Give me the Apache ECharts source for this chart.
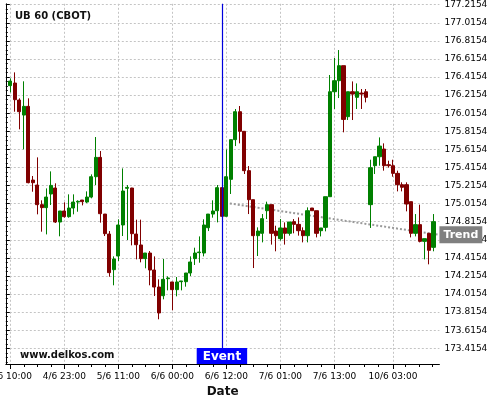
<!DOCTYPE html>
<html>
<head>
<meta charset="utf-8">
<script src="https://cdn.jsdelivr.net/npm/echarts@6/dist/echarts.min.js"></script>
<style>html,body{margin:0;padding:0;background:#fff}#c{width:500px;height:400px}</style>
</head>
<body>
<div id="c"></div>
<script>
// ---- data ----
const openV  = [176.320,176.349,176.161,175.995,176.091,175.276,175.221,175.004,174.971,175.122,
  175.188,174.812,174.934,174.871,174.967,175.033,175.055,175.033,175.088,175.313,
  175.527,174.900,174.679,174.285,174.436,174.779,175.185,175.188,174.679,174.558,
  174.407,174.469,174.281,174.093,173.997,174.185,174.149,174.064,174.152,174.152,
  174.248,174.407,174.473,174.469,174.749,174.900,174.937,175.192,174.875,175.284,
  175.723,176.032,175.815,175.380,175.059,174.661,174.687,174.937,175.004,174.712,
  174.628,174.746,174.687,174.816,174.786,174.716,174.661,174.967,174.937,174.716,
  174.753,175.092,176.253,176.375,176.541,175.977,176.253,176.191,176.238,176.253,
  175.004,175.435,175.534,175.619,175.446,175.435,175.350,175.225,175.225,175.037,
  174.687,174.783,174.598,174.687,174.532];
const closeV = [176.371,176.165,176.032,176.091,175.247,175.247,175.004,174.971,175.088,175.217,
  174.812,174.934,174.871,174.967,175.033,175.041,175.037,175.088,175.313,175.527,
  174.904,174.683,174.252,174.403,174.779,175.155,175.195,174.683,174.561,174.407,
  174.469,174.281,174.093,173.806,174.178,174.193,174.064,174.149,174.160,174.248,
  174.370,174.469,174.480,174.779,174.900,174.934,175.192,174.875,175.313,175.723,
  176.032,175.815,175.380,175.059,174.661,174.712,174.849,175.004,174.687,174.661,
  174.746,174.687,174.812,174.786,174.716,174.661,174.937,174.937,174.687,174.746,
  175.092,176.253,176.375,176.541,175.947,176.253,176.227,176.253,176.227,176.191,
  175.413,175.534,175.652,175.435,175.435,175.350,175.225,175.196,175.011,174.687,
  174.783,174.598,174.628,174.499,174.816];
const lowV   = [176.246,176.032,175.837,175.616,175.240,175.147,174.897,174.705,174.675,175.000,
  174.801,174.654,174.860,174.860,174.897,174.926,174.996,175.022,175.074,175.221,
  174.805,174.657,174.207,174.112,174.381,174.657,174.613,174.554,174.399,174.366,
  174.300,174.112,173.994,173.736,173.957,174.056,173.835,173.990,174.056,174.097,
  174.215,174.337,174.362,174.432,174.712,174.860,174.808,174.875,174.875,175.122,
  175.652,175.682,175.343,174.900,174.303,174.436,174.587,174.845,174.562,174.488,
  174.606,174.562,174.661,174.687,174.661,174.587,174.587,174.937,174.642,174.653,
  174.709,175.092,176.062,176.183,175.804,175.940,175.940,176.062,176.062,176.135,
  174.746,175.343,175.435,175.380,175.413,175.313,175.151,175.151,174.930,174.642,
  174.653,174.587,174.399,174.344,174.488];
const highV  = [176.401,176.467,176.180,176.368,176.180,175.321,175.527,175.052,175.184,175.372,
  175.240,174.934,175.030,175.118,175.118,175.052,175.055,175.151,175.339,175.752,
  175.597,174.900,174.712,174.432,174.842,175.405,175.221,175.190,174.838,174.838,
  174.469,174.491,174.432,174.178,174.403,174.211,174.149,174.204,174.160,174.248,
  174.432,174.528,174.653,174.842,174.900,175.052,175.221,175.192,175.615,175.723,
  176.062,176.095,175.815,175.431,175.059,174.753,174.900,175.037,175.004,174.771,
  174.845,174.808,174.812,174.845,174.863,174.753,174.974,174.967,174.937,174.746,
  175.092,176.438,176.626,176.714,176.541,176.253,176.367,176.345,176.283,176.283,
  175.501,175.534,175.748,175.682,175.490,175.501,175.380,175.251,175.251,175.037,
  174.900,175.004,174.628,174.687,174.900];

// x tick labels (candle position -> text)
const xLabelPos  = [1, 13, 25, 37, 49, 61, 73, 86];
const xLabelText = ['4/6 10:00','4/6 23:00','5/6 11:00','6/6 00:00','6/6 12:00','7/6 01:00','7/6 13:00','10/6 03:00'];
const xMinorPos  = [4,7,10,16,19,22,28,31,34,40,43,46,52,55,58,64,67,70,76.2,79.5,82.8,88.8,91.8,94.7];

// y tick labels
const yTicks = ['177.2154','177.0154','176.8154','176.6154','176.4154','176.2154','176.0154','175.8154',
  '175.6154','175.4154','175.2154','175.0154','174.8154','174.6154','174.4154','174.2154','174.0154',
  '173.8154','173.6154','173.4154'];

// event and trend
const eventPos = 48;
const trendX = [48, 96.3];
const trendY = [175.03, 174.67];

// ---- build ----
const X_MIN = 0, X_MAX = 96.3, Y_MIN = 173.2417, Y_MAX = 177.2254;
const yTickVals = yTicks.map(Number);
const yMinorVals = [];
for (let i = 0; i < yTickVals.length; i++) {
  for (let k = 1; k <= 3; k++) {
    const v = +(yTickVals[i] - 0.05 * k).toFixed(4);
    if (v > Y_MIN) yMinorVals.push(v);
  }
}
const candles = openV.map((o, i) => [i + 1, o, closeV[i], lowV[i], highV[i]]);
const trendData = trendX.map((x, i) => {
  const d = { value: [x, trendY[i]] };
  if (i === trendX.length - 1) {
    d.label = {
      show: true, position: 'right', distance: 0, formatter: 'Trend',
      backgroundColor: '#808080', color: '#fff', fontWeight: 'bold', fontSize: 11,
      fontFamily: 'DejaVu Sans', padding: [3, 4, 2, 4], lineHeight: 12
    };
  }
  return d;
});

const font = 'DejaVu Sans';
const chart = echarts.init(document.getElementById('c'), null, { renderer: 'canvas' });
chart.setOption({
  animation: false,
  backgroundColor: '#fff',
  title: [
    { text: 'UB 60 (CBOT)', left: 10, top: 6,
      textStyle: { fontFamily: font, fontSize: 10, fontWeight: 'bold', color: '#111' } },
    { text: 'www.delkos.com', left: 15, top: 345,
      textStyle: { fontFamily: font, fontSize: 10, fontWeight: 'bold', color: '#111' } }
  ],
  grid: { left: 5.8, right: 60.6, top: 3.8, bottom: 36, containLabel: false, outerBoundsMode: 'none' },
  xAxis: [
    {
      type: 'value', min: X_MIN, max: X_MAX, position: 'bottom',
      name: 'Date', nameLocation: 'middle', nameGap: 21,
      nameTextStyle: { fontFamily: font, fontSize: 12, fontWeight: 'bold', color: '#111' },
      axisLine: { show: true, lineStyle: { color: '#000', width: 1 } },
      axisTick: { show: true, length: 5, customValues: xLabelPos, lineStyle: { color: '#000' } },
      axisLabel: {
        customValues: xLabelPos, margin: 8, fontFamily: font, fontSize: 9, color: '#000',
        hideOverlap: false,
        formatter: v => xLabelText[xLabelPos.indexOf(v)]
      },
      splitLine: { show: true, lineStyle: { color: '#c4c4c4', type: [2, 2], width: 1 } }
    },
    {
      type: 'value', min: X_MIN, max: X_MAX, position: 'bottom',
      axisLine: { show: false },
      axisTick: { show: true, length: 3, customValues: xMinorPos, lineStyle: { color: '#000' } },
      axisLabel: { show: false },
      splitLine: { show: false }
    }
  ],
  yAxis: [
    {
      type: 'value', min: Y_MIN, max: Y_MAX, position: 'right', scale: true,
      axisLine: { show: true, lineStyle: { color: '#000', width: 1 } },
      axisTick: { show: true, length: 4, customValues: yTickVals, lineStyle: { color: '#000' } },
      axisLabel: {
        customValues: yTickVals, margin: 5, fontFamily: font, fontSize: 9, color: '#000',
        formatter: v => Number(v).toFixed(4)
      },
      splitLine: { show: true, lineStyle: { color: '#c4c4c4', type: [2, 2], width: 1 } }
    },
    {
      type: 'value', min: Y_MIN, max: Y_MAX, position: 'right', scale: true,
      axisLine: { show: false },
      axisTick: { show: true, length: 2, customValues: yMinorVals, lineStyle: { color: '#000' } },
      axisLabel: { show: false },
      splitLine: { show: false }
    }
  ],
  series: [
    {
      type: 'line', xAxisIndex: 0, yAxisIndex: 0, z: 1,
      data: trendData, symbol: 'circle', symbolSize: 0, showSymbol: true,
      lineStyle: { color: '#999', width: 2, type: [2, 2] },
      itemStyle: { color: '#999' },
      silent: true
    },
    {
      type: 'candlestick', xAxisIndex: 0, yAxisIndex: 0, z: 2,
      data: candles,
      encode: { x: 0, y: [1, 2, 3, 4] },
      barWidth: 3.6,
      itemStyle: {
        color: '#008000', color0: '#800000',
        borderColor: '#008000', borderColor0: '#800000', borderWidth: 1
      },
      markLine: {
        silent: true, symbol: ['none', 'none'], animation: false,
        lineStyle: { color: '#0000dd', width: 1.2, type: 'solid' },
        label: { show: false },
        data: [{ xAxis: eventPos }]
      },
      markPoint: {
        silent: true, animation: false,
        data: [{
          coord: [eventPos, Y_MIN], symbol: 'rect', symbolSize: 0,
          label: {
            show: true, position: 'top', distance: 0, formatter: 'Event',
            backgroundColor: '#0000ff', color: '#fff', fontWeight: 'bold', fontSize: 12,
            fontFamily: font, padding: [2, 6, 1, 6], lineHeight: 13
          }
        }]
      }
    }
  ]
});
</script>
</body>
</html>
